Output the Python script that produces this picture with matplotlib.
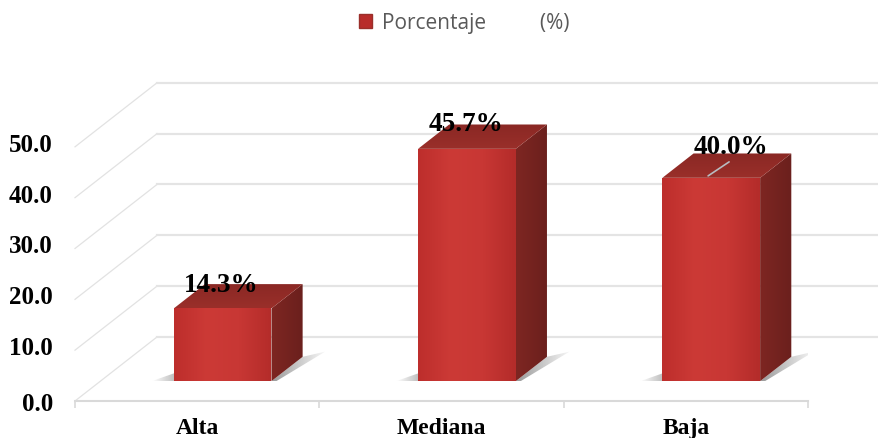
import numpy as np
import matplotlib
matplotlib.use('Agg')
import matplotlib.pyplot as plt
from matplotlib.patches import Polygon, Patch
from matplotlib.colors import LinearSegmentedColormap
from matplotlib.transforms import ScaledTranslation

categories = ['Alta', 'Mediana', 'Baja']
porcentaje = [14.3, 45.7, 40.0]
value_labels = ['14.3%', '45.7%', '40.0%']
y_ticks = [0, 10, 20, 30, 40, 50]
y_tick_labels = ['0.0', '10.0', '20.0', '30.0', '40.0', '50.0']

# depth of the fake 3d box, in data units per unit of depth
DX = 0.3357
DY = 12.6
BAR_W = 0.40
D0, D1 = 0.31, 0.69
SERIF = 'Liberation Serif'

fig = plt.figure(figsize=(8.79, 4.39), dpi=100)
ax = fig.add_axes([75 / 879, 37 / 439, 733 / 879, 305 / 439])
ax.patch.set_alpha(0)


def proj(x, y, d):
    return (x + d * DX, y + d * DY)


def gradient(pts, c_list, horizontal=True, z=3):
    # fill a polygon with a colour ramp, clipped by imshow
    pts = np.array(pts)
    ramp = np.linspace(0, 1, 64)
    ramp = ramp[None, :] if horizontal else ramp[:, None]
    cmap = LinearSegmentedColormap.from_list('g', c_list)
    im = ax.imshow(ramp, cmap=cmap, aspect='auto', origin='lower', zorder=z,
                   extent=[pts[:, 0].min(), pts[:, 0].max(), pts[:, 1].min(), pts[:, 1].max()])
    im.set_clip_path(Polygon(pts, closed=True, transform=ax.transData))


# walls: diagonal lines on the left, horizontal ones at the back
for v in y_ticks:
    x0, y0 = proj(0, v, 0)
    x1, y1 = proj(0, v, 1)
    ax.plot([x0, x1], [y0, y1], color='#e2e2e2', lw=0.9, zorder=1, clip_on=False)
    ax.plot([x1, 3.3], [y1, y1], color='#e4e4e4', lw=1.6, zorder=1, clip_on=False)

nudge = [(-1, 24), (-1, 25), (20, 31)]
for i, v in enumerate(porcentaje):
    cx = i + 0.5
    l = cx - BAR_W / 2
    r = cx + BAR_W / 2
    # floor shadows
    gradient([proj(r, 0, D0), proj(r, 0, D1), proj(r + 0.065, 0, D1 + 0.08), proj(r + 0.02, 0, D0)],
             ['#9a9a9a', '#f6f6f6'], z=2)
    gradient([proj(l - 0.09, 0, D0), proj(l, 0, D0), proj(l, 0, D0 + 0.22)],
             ['#ffffff', '#8a8a8a'], z=2)
    # faces of the box
    gradient([proj(r, 0, D0), proj(r, 0, D1), proj(r, v, D1), proj(r, v, D0)],
             ['#7e2622', '#6b201d'], z=3)
    gradient([proj(l, v, D0), proj(r, v, D0), proj(r, v, D1), proj(l, v, D1)],
             ['#9a2f2a', '#8a2824'], horizontal=False, z=3)
    gradient([proj(l, 0, D0), proj(r, 0, D0), proj(r, v, D0), proj(l, v, D0)],
             ['#bd2e2c', '#cc3a36', '#c83734', '#b42c2a'], z=4)
    x, y = proj(cx, v, D0)
    ax.annotate(value_labels[i], (x, y), xytext=nudge[i], textcoords='offset pixels',
                ha='center', va='center', family=SERIF, weight='bold', fontsize=19.5,
                color='black', zorder=6)

# stray leader line on the last bar
x, y = proj(2.477, porcentaje[2], D0 + 0.03)
ax.annotate('', (x, y), xytext=(21, 14), textcoords='offset pixels',
            arrowprops=dict(arrowstyle='-', color='#b8bcc0', lw=1.2, shrinkA=0, shrinkB=0), zorder=6)

ax.set_xlim(0, 3)
ax.set_ylim(0, 60)
for s in ['top', 'left', 'right']:
    ax.spines[s].set_visible(False)
ax.spines['bottom'].set_color('#d9d9d9')
ax.spines['bottom'].set_linewidth(1.5)
ax.set_xticks([0, 1, 2, 3])
ax.set_xticklabels([])
ax.set_xticks([0.5, 1.5, 2.5], minor=True)
ax.set_xticklabels(categories, minor=True, family=SERIF, weight='bold', fontsize=17)
ax.tick_params(axis='x', which='major', length=5, color='#d9d9d9', width=1.2)
ax.tick_params(axis='x', which='minor', length=0, pad=11.5)
ax.set_yticks(y_ticks)
ax.set_yticklabels(y_tick_labels, family=SERIF, weight='bold', fontsize=18)
ax.tick_params(axis='y', length=0, pad=16)
# all but the 0.0 label sit a little higher in the original
for lab in ax.get_yticklabels()[1:]:
    lab.set_transform(lab.get_transform() + ScaledTranslation(0, 5 / 100, fig.dpi_scale_trans))

handle = Patch(facecolor='#b82c2a', edgecolor='#9a2f2a')
fig.legend([handle], ['Porcentaje          (%)'], loc='upper center', bbox_to_anchor=(0.528, 1.012),
           frameon=False, handlelength=0.65, handleheight=0.65, handletextpad=0.45,
           prop={'family': 'Open Sans', 'size': 15}, labelcolor='#595959')

fig.savefig('out.png', dpi=100)
